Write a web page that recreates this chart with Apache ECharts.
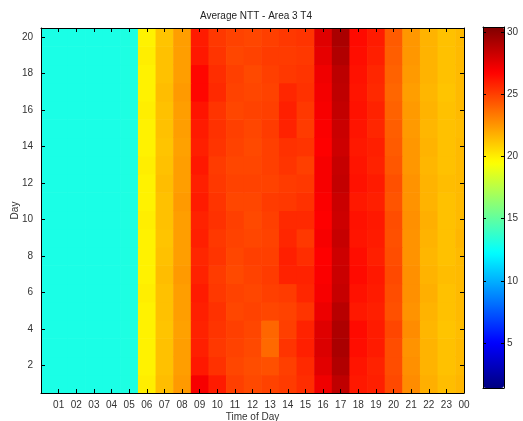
<!DOCTYPE html>
<html><head><meta charset="utf-8">
<script src="https://cdn.jsdelivr.net/npm/echarts@6/dist/echarts.min.js"></script>
<style>html,body{margin:0;padding:0;background:#fff}#c{width:523px;height:421px}</style>
</head><body><div id="c"></div>
<script>
const hourLabels = ['01','02','03','04','05','06','07','08','09','10','11','12','13','14','15','16','17','18','19','20','21','22','23','00'];
const dayTicks = [2,4,6,8,10,12,14,16,18,20];
const colorbarTicks = [5,10,15,20,25,30];
const colorMin = 1.4, colorMax = 30.4;

// one array per day (day 1 .. day 20), 24 hourly values (01 .. 00)
const d01 = [13.0,13.0,13.0,13.0,13.1,20.0,21.4,22.4,27.0,26.0,25.0,24.7,24.9,25.1,25.5,27.2,28.6,26.1,25.9,24.7,22.8,21.8,21.4,21.6];
const d02 = [13.0,13.0,13.0,13.0,13.1,19.9,21.3,22.3,26.1,25.4,24.8,24.6,24.5,25.0,25.6,27.6,29.0,26.2,25.8,24.6,22.7,21.7,21.3,21.5];
const d03 = [13.0,13.0,13.0,13.0,13.1,19.9,21.3,22.3,25.9,25.2,24.9,24.7,23.8,25.3,25.9,27.8,29.2,26.4,26.0,24.6,22.6,21.7,21.3,21.5];
const d04 = [13.0,13.0,13.0,13.0,13.1,19.9,21.2,22.2,25.8,25.3,25.0,24.8,23.9,25.0,25.8,27.7,29.1,26.5,26.0,24.8,22.8,21.6,21.2,21.4];
const d05 = [13.0,13.0,13.0,13.0,13.1,19.9,21.3,22.3,25.9,25.4,24.8,24.9,24.8,24.9,25.3,27.3,28.8,26.1,25.9,24.5,22.6,21.7,21.3,21.5];
const d06 = [13.0,13.0,13.0,13.0,13.1,20.0,21.3,22.3,26.0,25.2,24.9,24.8,25.0,25.1,25.7,27.0,28.4,26.3,26.0,24.6,22.7,21.8,21.3,21.5];
const d07 = [13.0,13.0,13.0,13.0,13.1,19.9,21.4,22.4,25.8,25.1,24.7,24.9,25.1,25.8,25.8,26.9,28.3,26.5,26.1,24.7,22.7,21.7,21.4,21.5];
const d08 = [13.0,13.0,13.0,13.0,13.1,19.9,21.3,22.3,25.7,25.3,24.8,25.0,25.0,25.9,25.5,26.8,28.2,26.4,25.9,24.6,22.6,21.6,21.3,21.5];
const d09 = [13.0,13.0,13.0,13.0,13.1,19.9,21.2,22.3,25.9,25.2,24.9,24.8,24.9,25.7,25.2,27.0,28.4,26.2,26.0,24.5,22.6,21.7,21.3,21.6];
const d10 = [13.0,13.0,13.0,13.0,13.1,20.0,21.3,22.3,25.8,25.4,25.0,24.7,25.0,25.6,25.6,26.8,28.2,26.3,26.1,24.6,22.7,21.8,21.3,21.5];
const d11 = [13.0,13.0,13.0,13.0,13.1,19.9,21.3,22.4,26.0,25.3,24.8,24.8,25.1,25.2,25.4,26.9,28.3,26.1,25.9,24.4,22.6,21.7,21.3,21.5];
const d12 = [13.0,13.0,13.0,13.0,13.1,19.9,21.4,22.3,25.9,25.2,24.9,24.9,24.9,25.1,25.2,27.0,28.5,26.3,26.0,24.5,22.6,21.7,21.4,21.5];
const d13 = [13.0,13.0,13.0,13.0,13.1,20.0,21.3,22.3,26.1,25.1,24.8,24.8,25.0,25.3,25.0,27.0,28.4,26.2,25.8,24.3,22.5,21.6,21.3,21.5];
const d14 = [13.0,13.0,13.0,13.0,13.1,19.9,21.2,22.2,25.9,25.3,24.9,24.7,25.0,25.4,25.3,26.8,28.2,26.1,25.9,24.2,22.5,21.7,21.3,21.5];
const d15 = [13.0,13.0,13.0,13.0,13.1,19.9,21.3,22.3,26.0,25.4,25.0,24.8,25.1,25.8,25.1,26.9,28.3,26.2,25.7,24.1,22.4,21.6,21.3,21.4];
const d16 = [13.0,13.0,13.0,13.0,13.1,20.0,21.3,22.3,26.2,25.3,24.8,24.9,25.0,25.9,25.2,27.0,28.5,26.3,25.8,24.0,22.4,21.7,21.3,21.5];
const d17 = [13.0,13.0,13.0,13.0,13.1,19.9,21.4,22.4,26.6,25.6,24.9,24.8,24.9,25.7,25.4,27.1,28.6,26.2,25.6,23.9,22.3,21.6,21.2,21.5];
const d18 = [13.0,13.0,13.0,13.0,13.1,19.9,21.3,22.3,26.6,25.5,25.0,24.7,25.0,25.2,25.3,27.2,28.7,26.3,25.7,24.0,22.4,21.7,21.3,21.5];
const d19 = [13.0,13.0,13.0,13.0,13.1,20.0,21.3,22.3,26.1,25.3,24.8,24.9,25.1,25.1,25.2,27.5,29.0,26.4,25.9,24.1,22.5,21.7,21.3,21.5];
const d20 = [13.0,13.0,13.0,13.0,13.1,19.9,21.2,22.3,26.0,25.2,24.9,24.8,25.0,25.2,25.3,27.7,29.2,26.5,26.0,24.2,22.5,21.7,21.3,21.5];
const dayRows = [d01,d02,d03,d04,d05,d06,d07,d08,d09,d10,d11,d12,d13,d14,d15,d16,d17,d18,d19,d20];

const cells = [];
dayRows.forEach((row, di) => row.forEach((v, hi) => cells.push([hi + 1, di + 1, v])));

const xMin = 0, xMax = 24;
const jet = ['#000080','#0000ff','#0080ff','#00ffff','#80ff80','#ffff00','#ff8000','#ff0000','#800000'];
const FONT = 'Liberation Sans';
const lab = {fontSize: 10, color: '#333', fontFamily: FONT};
const axLine = {show: true, onZero: false, lineStyle: {color: '#000', width: 1}};

const chart = echarts.init(document.getElementById('c'));
chart.setOption({
  animation: false,
  backgroundColor: '#fff',
  title: {text: 'Average NTT - Area 3 T4', left: 251, top: 6, textAlign: 'center',
    textStyle: {fontSize: 10, fontWeight: 'normal', color: '#222', fontFamily: FONT}},
  grid: [
    {left: 41, top: 28, width: 423, height: 365, outerBoundsMode: 'none', containLabel: false},
    {left: 483, top: 27, width: 21, height: 361, outerBoundsMode: 'none', containLabel: false}
  ],
  visualMap: {
    type: 'continuous', min: colorMin, max: colorMax, dimension: 2, seriesIndex: 0,
    calculable: false, text: ['', ''], showLabel: false, padding: 0,
    left: 483, top: 27, itemWidth: 21, itemHeight: 361, z: 1,
    inRange: {color: jet}
  },
  xAxis: [
    {type: 'value', gridIndex: 0, min: xMin, max: xMax, interval: 1, position: 'bottom', z: 10,
      name: 'Time of Day', nameLocation: 'middle', nameGap: 19, nameMoveOverlap: false,
      nameTextStyle: {fontSize: 10, color: '#333', fontFamily: FONT},
      axisLine: axLine,
      axisTick: {inside: true, length: 4, lineStyle: {color: '#000'}},
      axisLabel: Object.assign({margin: 7, showMinLabel: false,
        formatter: v => (v >= 1 && v <= 24) ? hourLabels[v - 1] : ''}, lab),
      splitLine: {show: false}},
    {type: 'value', gridIndex: 0, min: xMin, max: xMax, interval: 1, position: 'top', z: 10,
      axisLine: axLine,
      axisTick: {inside: true, length: 4, lineStyle: {color: '#000'}},
      axisLabel: {show: false}, splitLine: {show: false}},
    {type: 'value', gridIndex: 1, min: 0, max: 1, position: 'bottom', z: 10,
      axisLine: axLine, axisTick: {show: false}, axisLabel: {show: false}, splitLine: {show: false}},
    {type: 'value', gridIndex: 1, min: 0, max: 1, position: 'top', z: 10,
      axisLine: axLine, axisTick: {show: false}, axisLabel: {show: false}, splitLine: {show: false}}
  ],
  yAxis: [
    {type: 'value', gridIndex: 0, min: 0.5, max: 20.5, position: 'left', z: 10,
      name: 'Day', nameLocation: 'middle', nameGap: 21, nameRotate: 90, nameMoveOverlap: false,
      nameTextStyle: {fontSize: 10, color: '#333', fontFamily: FONT},
      axisLine: axLine,
      axisTick: {inside: true, length: 4, customValues: dayTicks, lineStyle: {color: '#000'}},
      axisLabel: Object.assign({margin: 8, customValues: dayTicks}, lab),
      splitLine: {show: false}},
    {type: 'value', gridIndex: 0, min: 0.5, max: 20.5, position: 'right', z: 10,
      axisLine: axLine,
      axisTick: {inside: true, length: 4, customValues: dayTicks, lineStyle: {color: '#000'}},
      axisLabel: {show: false}, splitLine: {show: false}},
    {type: 'value', gridIndex: 1, min: colorMin, max: colorMax, position: 'right', z: 10,
      axisLine: axLine,
      axisTick: {inside: true, length: 3, customValues: colorbarTicks, lineStyle: {color: '#000'}},
      axisLabel: Object.assign({margin: 3, customValues: colorbarTicks}, lab),
      splitLine: {show: false}},
    {type: 'value', gridIndex: 1, min: colorMin, max: colorMax, position: 'left', z: 10,
      axisLine: axLine,
      axisTick: {inside: true, length: 3, customValues: colorbarTicks, lineStyle: {color: '#000'}},
      axisLabel: {show: false}, splitLine: {show: false}}
  ],
  series: [{
    type: 'custom', xAxisIndex: 0, yAxisIndex: 0,
    data: cells,
    encode: {x: 0, y: 1},
    renderItem: function (params, api) {
      const h = api.value(0), d = api.value(1);
      const xa = Math.max(h - 0.5, xMin), xb = Math.min(h + 0.5, xMax);
      const left = (h === 1) ? xMin : xa;
      const p0 = api.coord([left, d + 0.5]);
      const p1 = api.coord([xb, d - 0.5]);
      return {
        type: 'rect',
        shape: {x: p0[0], y: p0[1], width: p1[0] - p0[0] + 0.6, height: p1[1] - p0[1] + 0.6},
        style: {fill: api.visual('color'), stroke: null}
      };
    }
  }]
});
</script>
</body></html>
